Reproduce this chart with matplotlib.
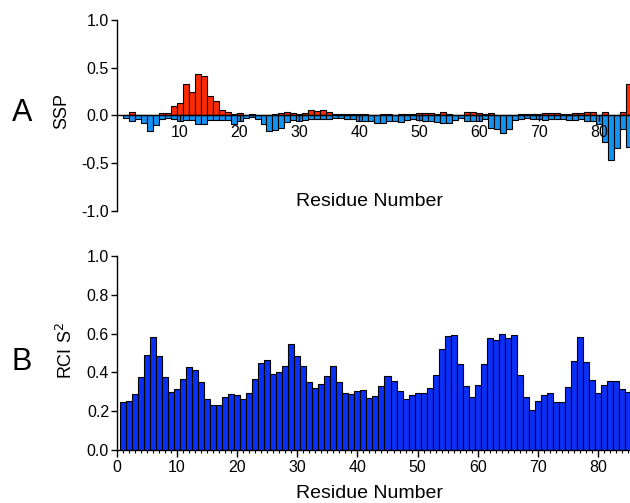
import matplotlib
matplotlib.use("Agg")
import matplotlib.pyplot as plt
from matplotlib.ticker import FormatStrFormatter, MultipleLocator
import numpy as np

plt.rcParams["font.family"] = ["Liberation Sans", "DejaVu Sans"]
plt.rcParams["axes.unicode_minus"] = False

residues = np.arange(1, 86)

# panel A: secondary structure propensity, two overlaid series
ssp_red = [
    0.005, 0.035, 0.005, 0.0, 0.0, 0.005, 0.02, 0.024, 0.094, 0.129,
    0.334, 0.25, 0.435, 0.41, 0.198, 0.15, 0.059, 0.04, 0.014, 0.024,
    0.005, 0.01, 0.005, 0.008, 0.008, 0.01, 0.02, 0.03, 0.024, 0.017,
    0.024, 0.059, 0.042, 0.052, 0.03, 0.017, 0.01, 0.01, 0.017, 0.017,
    0.01, 0.005, 0.005, 0.01, 0.01, 0.005, 0.01, 0.01, 0.01, 0.02,
    0.02, 0.024, 0.014, 0.038, 0.014, 0.005, 0.005, 0.038, 0.038, 0.024,
    0.017, 0.02, 0.005, 0.0, 0.0, 0.005, 0.01, 0.014, 0.014, 0.017,
    0.02, 0.024, 0.02, 0.014, 0.014, 0.024, 0.024, 0.038, 0.038, 0.0,
    0.035, 0.0, 0.0, 0.035, 0.33,
]
ssp_blue = [
    -0.028, -0.056, -0.035, -0.08, -0.16, -0.10, -0.038, -0.028, -0.038, -0.063,
    -0.045, -0.045, -0.087, -0.087, -0.045, -0.045, -0.045, -0.052, -0.09, -0.063,
    -0.03, -0.02, -0.038, -0.087, -0.168, -0.15, -0.135, -0.068, -0.045, -0.056,
    -0.045, -0.038, -0.038, -0.038, -0.038, -0.03, -0.03, -0.038, -0.038, -0.056,
    -0.056, -0.063, -0.08, -0.08, -0.056, -0.056, -0.07, -0.049, -0.035, -0.045,
    -0.063, -0.063, -0.073, -0.08, -0.08, -0.049, -0.028, -0.056, -0.056, -0.056,
    -0.035, -0.133, -0.14, -0.18, -0.14, -0.045, -0.038, -0.028, -0.038, -0.038,
    -0.045, -0.038, -0.035, -0.035, -0.049, -0.049, -0.042, -0.056, -0.063, -0.087,
    -0.28, -0.465, -0.343, -0.145, -0.33,
]

# panel B: random coil index order parameter
rci_s2 = [
    0.247, 0.252, 0.287, 0.374, 0.489, 0.583, 0.483, 0.374, 0.301, 0.315,
    0.367, 0.428, 0.410, 0.350, 0.263, 0.231, 0.230, 0.271, 0.287, 0.282,
    0.263, 0.294, 0.365, 0.447, 0.463, 0.390, 0.402, 0.431, 0.546, 0.485,
    0.431, 0.348, 0.318, 0.341, 0.384, 0.431, 0.353, 0.296, 0.290, 0.306,
    0.308, 0.270, 0.278, 0.329, 0.381, 0.357, 0.303, 0.264, 0.285, 0.292,
    0.294, 0.318, 0.388, 0.523, 0.586, 0.595, 0.445, 0.330, 0.271, 0.337,
    0.442, 0.576, 0.567, 0.598, 0.579, 0.591, 0.388, 0.275, 0.205, 0.254,
    0.285, 0.292, 0.250, 0.245, 0.325, 0.459, 0.581, 0.456, 0.362, 0.296,
    0.337, 0.358, 0.355, 0.315, 0.299,
]

x_ticks = [10, 20, 30, 40, 50, 60, 70, 80]
x_ticks_b = [0, 10, 20, 30, 40, 50, 60, 70, 80]

W, H = 630, 503
fig = plt.figure(figsize=(W / 100, H / 100), dpi=100)


def rect(left, top, right, bottom):
    return [left / W, 1 - bottom / H, (right - left) / W, (bottom - top) / H]


# --- panel A ---
ax = fig.add_axes(rect(116.7, 20, 632, 210.7))
ax.bar(residues, ssp_red, width=1.0, color="#ff2a00", edgecolor="black", linewidth=0.8)
ax.bar(residues, ssp_blue, width=1.0, color="#1492f2", edgecolor="black", linewidth=0.8)
ax.set_xlim(-0.5, 85.5)
ax.set_ylim(-1.0, 1.0)
ax.spines["top"].set_visible(False)
ax.spines["right"].set_visible(False)
ax.spines["bottom"].set_position(("data", 0))
ax.spines["left"].set_linewidth(1.0)
ax.spines["bottom"].set_linewidth(1.0)
ax.set_xticks(x_ticks)
ax.yaxis.set_major_locator(MultipleLocator(0.5))
ax.yaxis.set_major_formatter(FormatStrFormatter("%.1f"))
ax.tick_params(axis="y", length=4, width=1.0, labelsize=11.5, pad=1.5)
ax.tick_params(axis="x", length=4, width=1.0, labelsize=11.5, pad=3)
ax.set_facecolor("none")
fig.text(370 / W, 1 - 201 / H, "Residue Number", ha="center", va="center", fontsize=14)
fig.text(62 / W, 1 - 111 / H, "SSP", ha="center", va="center", rotation=90, fontsize=13)
fig.text(22 / W, 1 - 113 / H, "A", ha="center", va="center", fontsize=22)

# --- panel B ---
bx = fig.add_axes(rect(116.7, 256, 630, 450))
bx.bar(residues, rci_s2, width=1.0, color="#0a30f8", edgecolor="black", linewidth=0.8)
bx.set_xlim(0, 85.3)
bx.set_ylim(0, 1.0)
bx.spines["top"].set_visible(False)
bx.spines["right"].set_visible(False)
bx.spines["left"].set_linewidth(1.0)
bx.spines["bottom"].set_linewidth(1.0)
bx.set_xticks(x_ticks_b)
bx.xaxis.set_minor_locator(MultipleLocator(1))
bx.yaxis.set_major_locator(MultipleLocator(0.2))
bx.yaxis.set_major_formatter(FormatStrFormatter("%.1f"))
bx.tick_params(axis="y", length=4, width=1.0, labelsize=11.5, pad=1.5)
bx.tick_params(axis="x", which="major", length=5, width=1.0, labelsize=11.5, pad=2)
bx.tick_params(axis="x", which="minor", length=2.5, width=0.8)
fig.text(370 / W, 1 - 493 / H, "Residue Number", ha="center", va="center", fontsize=14)
fig.text(66 / W, 1 - 351 / H, "RCI S$^2$", ha="center", va="center", rotation=90, fontsize=13)
fig.text(22 / W, 1 - 362 / H, "B", ha="center", va="center", fontsize=22)

fig.savefig("out.png", dpi=100)
